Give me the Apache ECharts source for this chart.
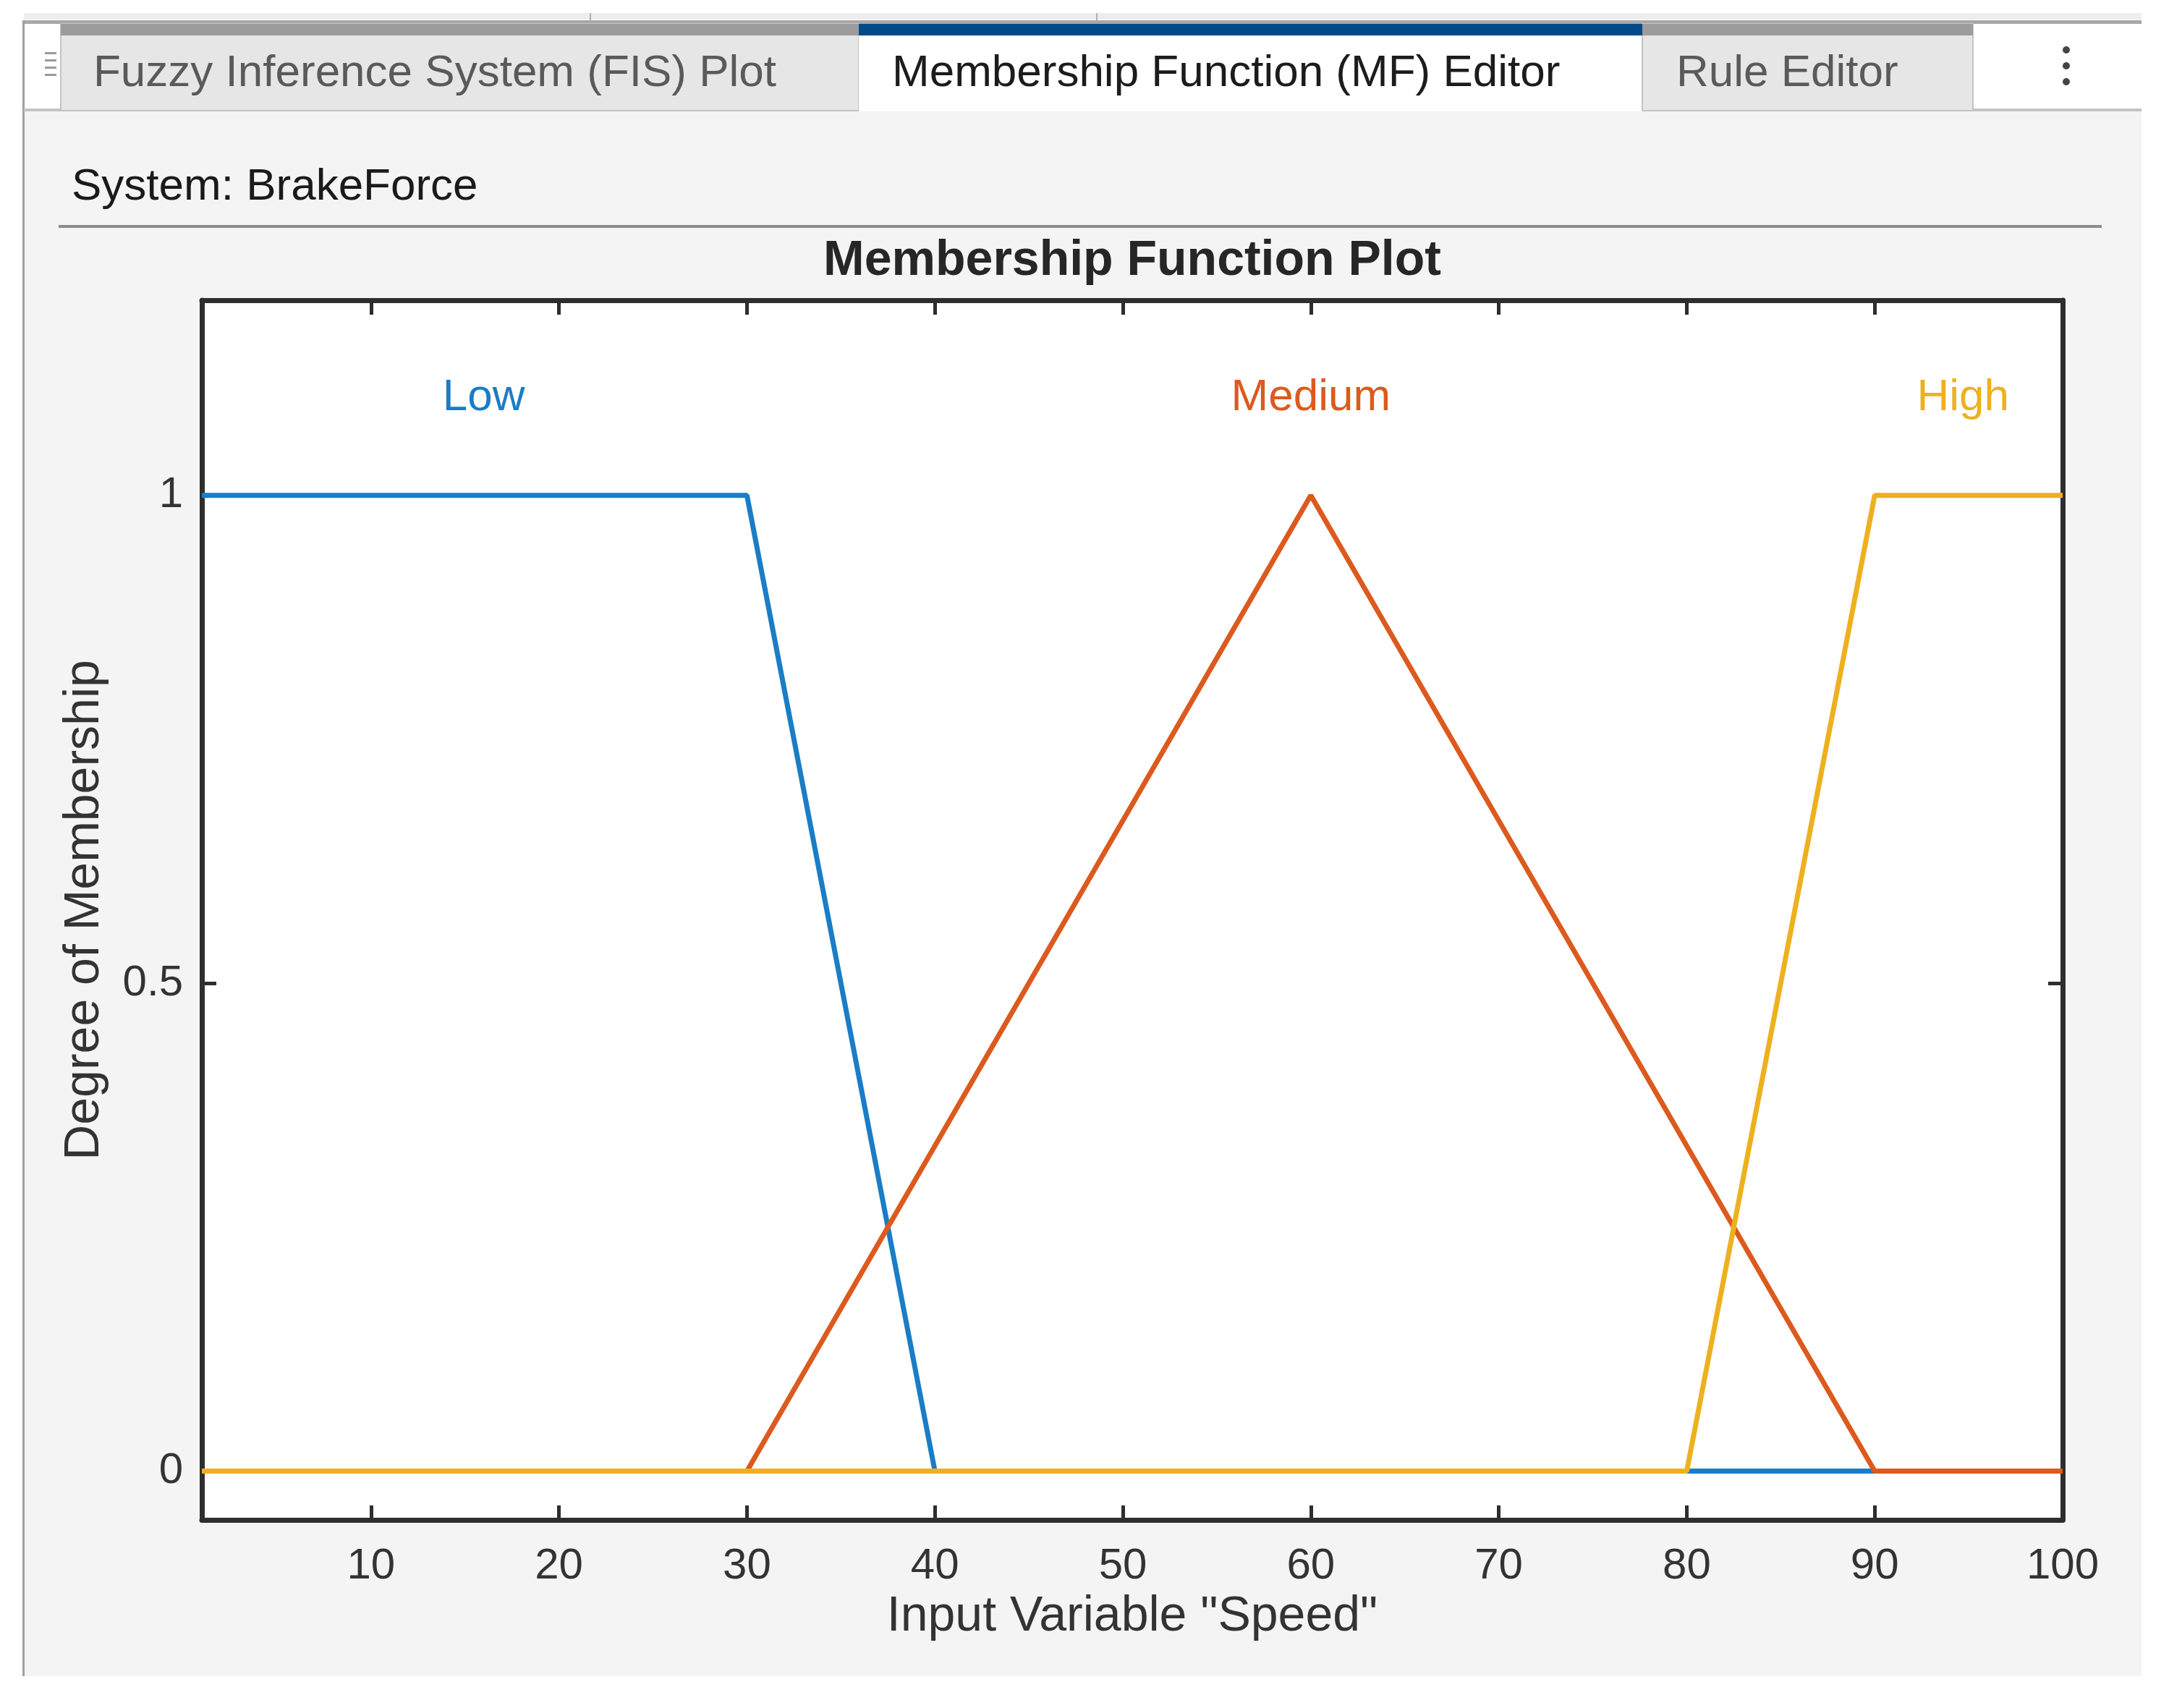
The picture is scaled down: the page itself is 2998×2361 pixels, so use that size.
<!DOCTYPE html>
<html>
<head>
<meta charset="utf-8">
<title>Membership Function Plot</title>
<script src="https://cdn.jsdelivr.net/npm/echarts@6/dist/echarts.min.js"></script>
<style>
  html, body { margin: 0; padding: 0; background: #fff; }
  #chart { width: 2998px; height: 2361px; }
</style>
</head>
<body>
<div id="chart"></div>
<script>
// membership functions of input "Speed" (x = speed, y = degree)
const lowX = [1, 30, 40, 100];
const lowY = [1, 1, 0, 0];
const mediumX = [1, 30, 60, 90, 100];
const mediumY = [0, 0, 1, 0, 0];
const highX = [1, 80, 90, 100];
const highY = [0, 0, 1, 1];

const mfNames = ['Low', 'Medium', 'High'];
const mfLabelX = [16, 60, 94.7];
const mfLabelY = 1.1;

const xTicks = [10, 20, 30, 40, 50, 60, 70, 80, 90, 100];
const yTicks = [0, 0.5, 1];

const tabNames = ['Fuzzy Inference System (FIS) Plot', 'Membership Function (MF) Editor', 'Rule Editor'];

const FONT = '"Liberation Sans", Arial, Helvetica, sans-serif';
const colors = ['#1a7dc6', '#dc5a1e', '#edb120'];
const axisColor = '#2e2e2e';

function zip(xs, ys) {
  return xs.map((x, i) => [x, ys[i]]);
}

const dom = document.getElementById('chart');
const myChart = echarts.init(dom, null, { renderer: 'canvas' });

// the MATLAB app chrome round the plot
const chrome = [
  { type: 'rect', z: -20, shape: { x: 33, y: 153, width: 2927, height: 2164 }, style: { fill: '#f4f4f4' } },
  { type: 'rect', z: -19, shape: { x: 33, y: 18, width: 2927, height: 9 }, style: { fill: '#ededed' } },
  { type: 'rect', z: -18, shape: { x: 815, y: 18, width: 2, height: 10 }, style: { fill: '#b0b0b0' } },
  { type: 'rect', z: -18, shape: { x: 1515, y: 18, width: 2, height: 10 }, style: { fill: '#b0b0b0' } },
  { type: 'rect', z: -19, shape: { x: 33, y: 28, width: 2927, height: 5 }, style: { fill: '#a8a8a8' } },
  { type: 'rect', z: -19, shape: { x: 31, y: 28, width: 3, height: 2289 }, style: { fill: '#a0a0a0' } },
  // tabs
  { type: 'rect', z: -18, shape: { x: 84, y: 33, width: 1103, height: 120 }, style: { fill: '#e6e6e6', stroke: '#c4c4c4', lineWidth: 2 } },
  { type: 'rect', z: -17, shape: { x: 84, y: 33, width: 1103, height: 16 }, style: { fill: '#9c9c9c' } },
  { type: 'rect', z: -18, shape: { x: 1187, y: 33, width: 1083, height: 121 }, style: { fill: '#ffffff' } },
  { type: 'rect', z: -17, shape: { x: 1187, y: 33, width: 1083, height: 16 }, style: { fill: '#004a87' } },
  { type: 'rect', z: -18, shape: { x: 2270, y: 33, width: 457, height: 120 }, style: { fill: '#e6e6e6', stroke: '#c4c4c4', lineWidth: 2 } },
  { type: 'rect', z: -17, shape: { x: 2270, y: 33, width: 457, height: 16 }, style: { fill: '#9c9c9c' } },
  { type: 'rect', z: -17, shape: { x: 2727, y: 150, width: 233, height: 4 }, style: { fill: '#c4c4c4' } },
  { type: 'rect', z: -17, shape: { x: 33, y: 150, width: 51, height: 4 }, style: { fill: '#c4c4c4' } },
  // grip on the left
  { type: 'rect', z: -16, shape: { x: 62, y: 72, width: 16, height: 3 }, style: { fill: '#9a9a9a' } },
  { type: 'rect', z: -16, shape: { x: 62, y: 82, width: 16, height: 3 }, style: { fill: '#9a9a9a' } },
  { type: 'rect', z: -16, shape: { x: 62, y: 92, width: 16, height: 3 }, style: { fill: '#9a9a9a' } },
  { type: 'rect', z: -16, shape: { x: 62, y: 102, width: 16, height: 3 }, style: { fill: '#9a9a9a' } },
  // more menu
  { type: 'circle', z: -16, shape: { cx: 2856, cy: 69, r: 5 }, style: { fill: '#444' } },
  { type: 'circle', z: -16, shape: { cx: 2856, cy: 91, r: 5 }, style: { fill: '#444' } },
  { type: 'circle', z: -16, shape: { cx: 2856, cy: 113, r: 5 }, style: { fill: '#444' } },
  { type: 'text', z: -15, x: 129, y: 102, style: { text: tabNames[0], font: '62px ' + FONT, fill: '#5a5a5a', textVerticalAlign: 'middle' } },
  { type: 'text', z: -15, x: 1233, y: 102, style: { text: tabNames[1], font: '62px ' + FONT, fill: '#1c1c1c', textVerticalAlign: 'middle' } },
  { type: 'text', z: -15, x: 2317, y: 102, style: { text: tabNames[2], font: '62px ' + FONT, fill: '#5a5a5a', textVerticalAlign: 'middle' } },
  // system name and rule
  { type: 'text', z: -15, x: 99, y: 259, style: { text: 'System: BrakeForce', font: '62px ' + FONT, fill: '#1a1a1a', textVerticalAlign: 'middle' } },
  { type: 'rect', z: -15, shape: { x: 81, y: 311, width: 2824, height: 4 }, style: { fill: '#8c8c8c' } },
  { type: 'text', z: -15, x: 1565, y: 361, style: { text: 'Membership Function Plot', font: 'bold 68px ' + FONT, fill: '#262626', textAlign: 'center', textVerticalAlign: 'middle' } }
];

const axisLine = { show: true, onZero: false, lineStyle: { color: axisColor, width: 7 } };
const tickStyle = { color: axisColor, width: 5 };

const lines = [
  { name: mfNames[0], x: lowX, y: lowY },
  { name: mfNames[1], x: mediumX, y: mediumY },
  { name: mfNames[2], x: highX, y: highY }
];

const option = {
  backgroundColor: '#ffffff',
  animation: false,
  graphic: chrome,
  grid: {
    left: 279, right: 147, top: 415, bottom: 260,
    show: true, backgroundColor: '#ffffff', borderWidth: 0,
    outerBoundsMode: 'none'
  },
  xAxis: [
    {
      type: 'value', min: 1, max: 100, position: 'bottom',
      axisLine: axisLine,
      axisTick: { show: true, inside: true, length: 20, lineStyle: tickStyle, customValues: xTicks },
      axisLabel: { customValues: xTicks, fontSize: 60, fontFamily: FONT, color: '#333', margin: 34 },
      splitLine: { show: false },
      name: 'Input Variable "Speed"', nameLocation: 'middle', nameGap: 100,
      nameTextStyle: { fontSize: 68, fontFamily: FONT, color: '#333' }
    },
    {
      type: 'value', min: 1, max: 100, position: 'top',
      axisLine: axisLine,
      axisTick: { show: true, inside: true, length: 20, lineStyle: tickStyle, customValues: xTicks },
      axisLabel: { show: false },
      splitLine: { show: false }
    }
  ],
  yAxis: [
    {
      type: 'value', min: -0.05, max: 1.2, position: 'left',
      axisLine: axisLine,
      axisTick: { show: true, inside: true, length: 20, lineStyle: tickStyle, customValues: yTicks },
      axisLabel: { customValues: yTicks, fontSize: 60, fontFamily: FONT, color: '#333', margin: 26 },
      splitLine: { show: false },
      name: 'Degree of Membership', nameLocation: 'middle', nameGap: 128,
      nameTextStyle: { fontSize: 68, fontFamily: FONT, color: '#333' }
    },
    {
      type: 'value', min: -0.05, max: 1.2, position: 'right',
      axisLine: axisLine,
      axisTick: { show: true, inside: true, length: 20, lineStyle: tickStyle, customValues: yTicks },
      axisLabel: { show: false },
      splitLine: { show: false }
    }
  ],
  series: lines.map((mf, i) => ({
    name: mf.name,
    type: 'line',
    xAxisIndex: 0,
    yAxisIndex: 0,
    data: zip(mf.x, mf.y),
    showSymbol: false,
    symbol: 'none',
    lineStyle: { color: colors[i], width: 7 },
    itemStyle: { color: colors[i] },
    markPoint: {
      symbol: 'circle',
      symbolSize: 1,
      itemStyle: { color: 'rgba(0,0,0,0)' },
      label: { show: true, position: 'inside', formatter: mf.name, fontSize: 62, fontFamily: FONT, color: colors[i] },
      data: [{ coord: [mfLabelX[i], mfLabelY] }]
    }
  }))
};

myChart.setOption(option, true);
</script>
</body>
</html>
